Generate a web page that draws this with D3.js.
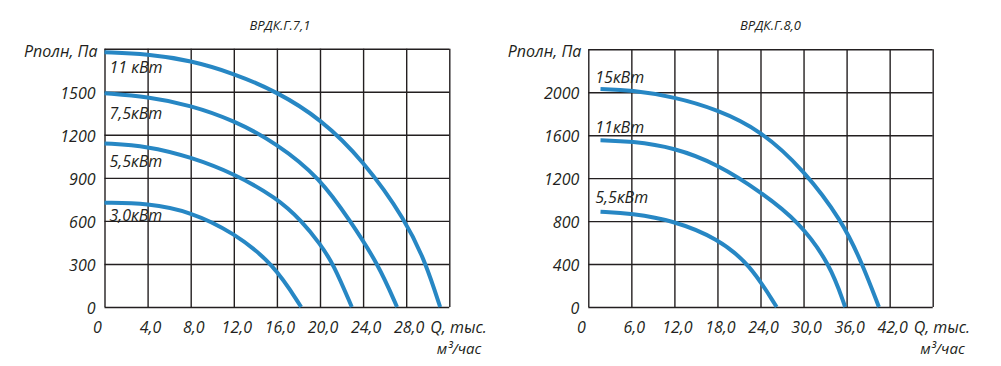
<!DOCTYPE html>
<html>
<head>
<meta charset="utf-8">
<script src="https://cdn.jsdelivr.net/npm/d3@7/dist/d3.min.js"></script>
<style>
  body { margin: 0; background: #fff; }
  svg text { font-family: "Open Sans", "Noto Sans", sans-serif; font-style: italic; fill: #231f20; }
</style>
</head>
<body>
<svg id="chart" width="1001" height="366"></svg>
<script>
// ВРДК.Г.7,1
const titleA = "ВРДК.Г.7,1";
const xTicksA = [0, 4, 8, 12, 16, 20, 24, 28, 32];
const yTicksA = [0, 300, 600, 900, 1200, 1500, 1800];
const namesA = ["11 кВт", "7,5кВт", "5,5кВт", "3,0кВт"];
const qA11 = [0, 4, 8, 12, 16, 20, 24, 28, 29.85, 31.15];
const pA11 = [1775, 1763, 1718, 1628, 1500, 1315, 1024, 600, 300, 0];
const qA75 = [0, 4, 8, 12, 16, 20, 22.8, 25.4, 27.15];
const pA75 = [1490, 1465, 1406, 1301, 1140, 900, 600, 300, 0];
const qA55 = [0, 4, 8, 12, 16, 18.3, 20, 21.25, 22.95];
const pA55 = [1140, 1122, 1045, 931, 760, 600, 440, 300, 0];
const qA30 = [0, 4, 8, 12, 15.7, 18.25];
const pA30 = [727, 723, 664, 518, 300, 0];

// ВРДК.Г.8,0
const titleB = "ВРДК.Г.8,0";
const xTicksB = [0, 6, 12, 18, 24, 30, 36, 42, 48];
const yTicksB = [0, 400, 800, 1200, 1600, 2000, 2400];
const namesB = ["15кВт", "11кВт", "5,5кВт"];
const qB15 = [1.7, 6, 12, 18, 24, 30, 35.4, 38.2, 40.5];
const pB15 = [2031, 2019, 1957, 1839, 1647, 1280, 800, 400, 0];
const qB11 = [1.7, 6, 12, 18, 24, 29.3, 33.7, 35.8];
const pB11 = [1553, 1544, 1485, 1330, 1073, 800, 400, 0];
const qB55 = [1.7, 6, 12, 18, 22.5, 26.25];
const pB55 = [887, 872, 803, 639, 400, 0];

const yLabel = "Рполн, Па";
const xLabel1 = "Q, тыс.";
const xLabel2 = "м³/час";

const svg = d3.select("#chart");
const lineColor = "#2787c4";
const ink = "#231f20";

function comma(v) { return d3.format(".1f")(v).replace(".", ","); }

function drawChart(opt) {
  const x = d3.scaleLinear().domain([0, d3.max(opt.xTicks)]).range([opt.left, opt.left + opt.width]);
  const y = d3.scaleLinear().domain([0, d3.max(opt.yTicks)]).range([opt.top + opt.height, opt.top]);
  const g = svg.append("g");

  // grid
  g.append("g")
    .attr("transform", `translate(0,${opt.top + opt.height})`)
    .call(d3.axisBottom(x).tickValues(opt.xTicks).tickSize(-opt.height).tickFormat(""))
    .call(s => s.select(".domain").remove())
    .call(s => s.selectAll("line").attr("stroke", ink).attr("stroke-width", 1.4));
  g.append("g")
    .attr("transform", `translate(${opt.left},0)`)
    .call(d3.axisLeft(y).tickValues(opt.yTicks).tickSize(-opt.width).tickFormat(""))
    .call(s => s.select(".domain").remove())
    .call(s => s.selectAll("line").attr("stroke", ink).attr("stroke-width", 1.4));

  // x labels
  const last = d3.max(opt.xTicks);
  g.append("g").selectAll("text")
    .data(opt.xTicks)
    .join("text")
    .attr("x", d => x(d) + (d === 0 ? -7 : d === last ? -19 : 3))
    .attr("y", 333)
    .attr("text-anchor", d => d === last ? "start" : "middle")
    .style("font-size", "16px")
    .text(d => d === 0 ? "0" : d === last ? xLabel1 : comma(d));
  g.append("text")
    .attr("x", x(last) + 32)
    .attr("y", 354)
    .attr("text-anchor", "end")
    .style("font-size", "15px")
    .text(xLabel2);

  // y labels
  const top = d3.max(opt.yTicks);
  g.append("g").selectAll("text")
    .data(opt.yTicks)
    .join("text")
    .attr("x", d => x(0) - (d === top ? 7 : 9))
    .attr("y", d => y(d) + (d === top ? 8 : 7))
    .attr("text-anchor", "end")
    .style("font-size", "16px")
    .text(d => d === top ? yLabel : d);

  // title
  g.append("text")
    .attr("x", opt.left + opt.width / 2 + opt.titleDx)
    .attr("y", 30)
    .attr("text-anchor", "middle")
    .style("font-size", "13px")
    .text(opt.title);

  // curves (smoothed through the read-off points)
  const line = d3.line()
    .x(d => x(d[0]))
    .y(d => y(d[1]))
    .curve(d3.curveBasis);
  opt.series.forEach((s, i) => {
    const pts = d3.zip(s.q, s.p);
    g.append("path")
      .attr("d", line(pts))
      .attr("fill", "none")
      .attr("stroke", lineColor)
      .attr("stroke-width", 4);
    g.append("text")
      .attr("x", opt.left + opt.labelDx)
      .attr("y", y(s.p[0]) + opt.labelDy[i])
      .style("font-size", "16px")
      .text(opt.names[i]);
  });
}

drawChart({
  title: titleA, titleDx: 3,
  left: 104.5, top: 48.7, width: 344.8, height: 258.3,
  xTicks: xTicksA, yTicks: yTicksA, names: namesA,
  series: [{q: qA11, p: pA11}, {q: qA75, p: pA75}, {q: qA55, p: pA55}, {q: qA30, p: pA30}],
  labelDx: 5, labelDy: [21, 25.5, 24, 18.6]
});

drawChart({
  title: titleB, titleDx: 10,
  left: 588.3, top: 49.3, width: 344.4, height: 257.7,
  xTicks: xTicksB, yTicks: yTicksB, names: namesB,
  series: [{q: qB15, p: pB15}, {q: qB11, p: pB11}, {q: qB55, p: pB55}],
  labelDx: 7, labelDy: [-6, -7.7, -8.3]
});
</script>
</body>
</html>
